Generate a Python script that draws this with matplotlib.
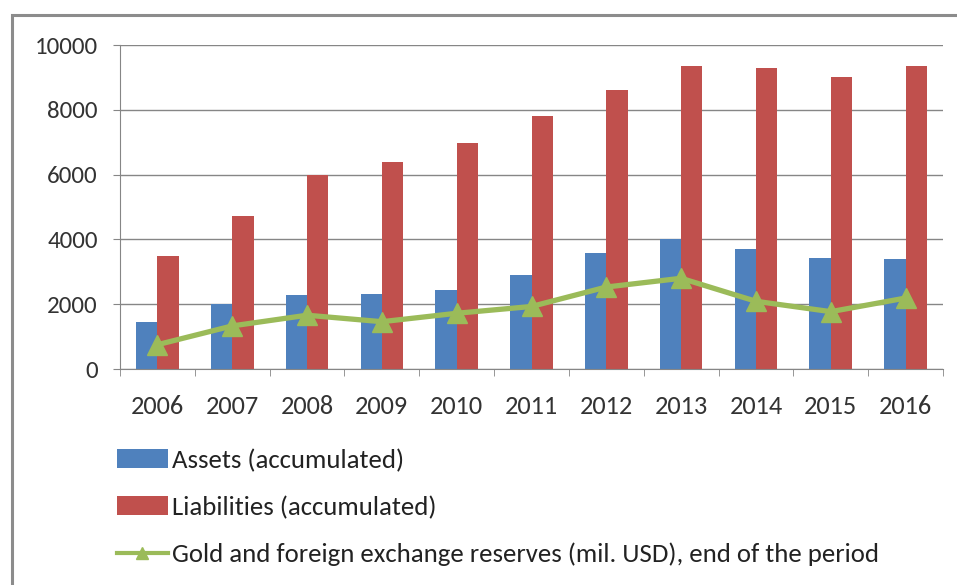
import matplotlib
matplotlib.use("Agg")
import matplotlib.pyplot as plt
import numpy as np
from matplotlib.patches import Rectangle

years = ["2006", "2007", "2008", "2009", "2010", "2011", "2012", "2013", "2014", "2015", "2016"]
assets = [1440, 2020, 2280, 2310, 2440, 2910, 3590, 4010, 3700, 3430, 3390]
liabilities = [3500, 4730, 5990, 6400, 6990, 7820, 8610, 9360, 9280, 9010, 9360]
reserves = [750, 1330, 1660, 1460, 1720, 1930, 2530, 2800, 2090, 1770, 2190]

labels = ["Assets (accumulated)", "Liabilities (accumulated)",
          "Gold and foreign exchange reserves (mil. USD), end of the period"]

plt.rcParams['font.family'] = ['Carlito', 'Liberation Sans Narrow', 'DejaVu Sans']

W, H = 957, 585
fig = plt.figure(figsize=(W / 100, H / 100), dpi=100)
ax = fig.add_axes([120 / W, 1 - 369 / H, (943 - 120) / W, (369 - 45) / H])

x = np.arange(len(years))
bw = 0.285
b1 = ax.bar(x - bw / 2, assets, bw, color="#4F81BD", zorder=2, label=labels[0])
b2 = ax.bar(x + bw / 2, liabilities, bw, color="#C0504D", zorder=2, label=labels[1])
l1, = ax.plot(x, reserves, color="#9BBB59", lw=3.8, marker="^", markersize=14,
              zorder=3, label=labels[2])

ax.set_xlim(-0.5, len(years) - 0.5)
ax.set_ylim(0, 10000)
ax.set_yticks(range(0, 10001, 2000))
ax.yaxis.grid(True, color="#868686", lw=1)
ax.set_axisbelow(True)
ax.set_xticks(x)
ax.set_xticklabels(years)
ax.set_xticks(np.arange(-0.5, len(years)), minor=True)
ax.tick_params(axis="x", which="major", length=0, pad=19, labelsize=19, colors="#333333")
ax.tick_params(axis="x", which="minor", length=5, color="#868686", direction="out")
ax.tick_params(axis="y", length=5, color="#868686", pad=11, labelsize=18, colors="#333333")
for s in ["top", "right"]:
    ax.spines[s].set_visible(False)
ax.spines["left"].set_color("#868686")
ax.spines["bottom"].set_color("#868686")

leg = fig.legend([b1, b2, l1], labels, loc="upper left",
                 bbox_to_anchor=(106 / W, 1 - 438 / H), frameon=False,
                 fontsize=19.3, handlelength=1.9, handletextpad=0.15,
                 labelspacing=0.88, borderaxespad=0)
for t in leg.get_texts():
    t.set_color("#222222")
leg.legend_handles[2].set_markersize(9)
leg.legend_handles[2].set_linewidth(3)

fig.patches.append(Rectangle((12 / W, -0.05), 1.1, (H - 15) / H + 0.05,
                             transform=fig.transFigure, fill=False,
                             edgecolor="#8c8c8c", lw=2.2, zorder=0))

fig.savefig("out.png", dpi=100)
